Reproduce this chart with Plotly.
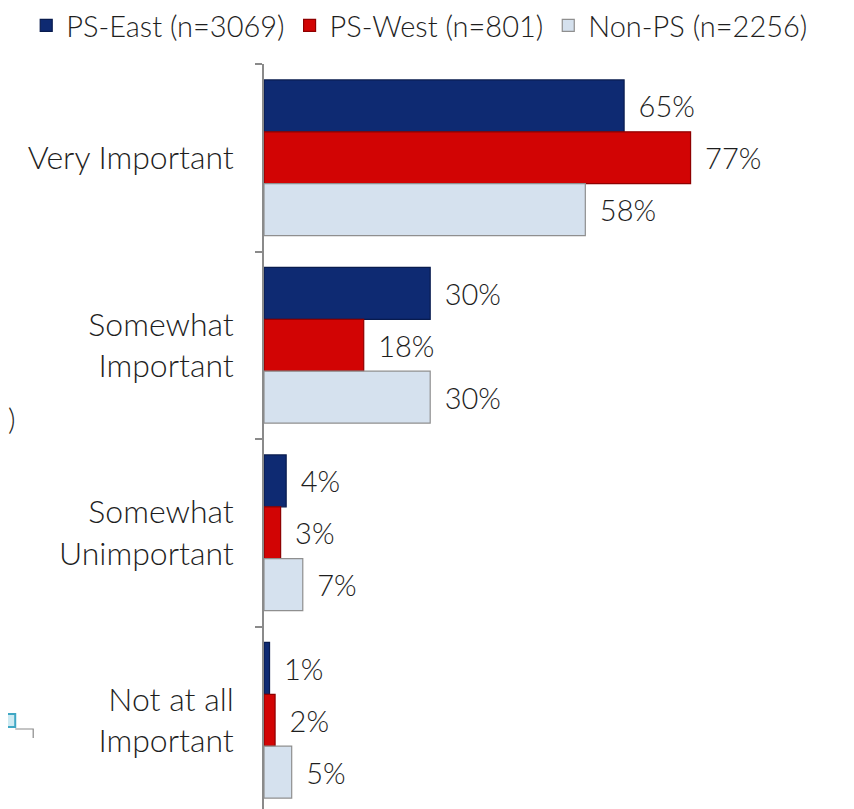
import plotly.graph_objects as go

categories = ["Very Important", "Somewhat<br>Important", "Somewhat<br>Unimportant", "Not at all<br>Important"]
series_names = ["PS-East (n=3069)", "PS-West (n=801)", "Non-PS (n=2256)"]
ps_east = [65, 30, 4, 1]
ps_west = [77, 18, 3, 2]
non_ps = [58, 30, 7, 5]

values = [ps_east, ps_west, non_ps]
fills = ["#0E2A72", "#D20404", "#D5E1EE"]
edges = ["#081B4E", "#8E0000", "#8F8F8F"]

FONT = "Lato"
WT = 300
INK = "#1E1E1E"

# layout geometry (figure pixels)
L, T, FW, FH = 256, 56, 854, 809
PW = 554.5
PH = FH - T
CAT_PX = 187.5


def px_x(x):
    return (x - L) / PW


def px_y(y):
    return 1 - (y - T) / PH


fig = go.Figure()
for name, vals, fc, ec in zip(series_names, values, fills, edges):
    fig.add_trace(go.Bar(
        y=categories, x=vals, name=name, orientation="h",
        marker=dict(color=fc, line=dict(color=ec, width=1.2)),
        texttemplate="\u00a0\u2009%{x}%", textposition="outside",
        textfont=dict(family=FONT, size=29, color=INK, weight=WT),
        cliponaxis=False,
    ))

fig.update_layout(
    width=FW, height=FH,
    margin=dict(l=L, r=FW - L - PW, t=T, b=0, autoexpand=False),
    barmode="group", bargap=0.17, bargroupgap=0,
    plot_bgcolor="white", paper_bgcolor="white",
    font=dict(family=FONT, size=29, color=INK, weight=WT),
    showlegend=True,
    legend=dict(orientation="h", x=px_x(18), xanchor="left",
                y=px_y(-8), yanchor="top",
                font=dict(family=FONT, size=29, color=INK, weight=WT),
                traceorder="normal", itemwidth=30, bgcolor="rgba(0,0,0,0)"),
    xaxis=dict(range=[0, 100], visible=False, showgrid=False, zeroline=False),
    yaxis=dict(range=[-0.5 + PH / CAT_PX, -0.5], showgrid=False, zeroline=False,
               showline=True, linecolor="#8A8A8A", linewidth=1.5,
               ticks="outside", tickson="boundaries", ticklen=7,
               tickcolor="#8A8A8A", tickwidth=1.5,
               ticklabelstandoff=22,
               tickfont=dict(family=FONT, size=32, color=INK, weight=WT)),
)

# cropped fragments at the left edge of the original slide
fig.add_annotation(text=")", xref="paper", yref="paper", x=px_x(-2), y=px_y(410),
                   xanchor="left", yanchor="middle", showarrow=False,
                   font=dict(family=FONT, size=29, color=INK, weight=WT))
fig.add_shape(type="rect", xref="paper", yref="paper",
              x0=px_x(-2), x1=px_x(7), y0=px_y(719), y1=px_y(706),
              fillcolor="#CDEAF2", line=dict(color="#3FA7C4", width=2))
fig.add_shape(type="path", xref="paper", yref="paper",
              path=f"M {px_x(7)},{px_y(721)} L {px_x(25)},{px_y(721)} L {px_x(25)},{px_y(730)}",
              line=dict(color="#8A8A8A", width=1.2))

fig.write_html("out.html")
